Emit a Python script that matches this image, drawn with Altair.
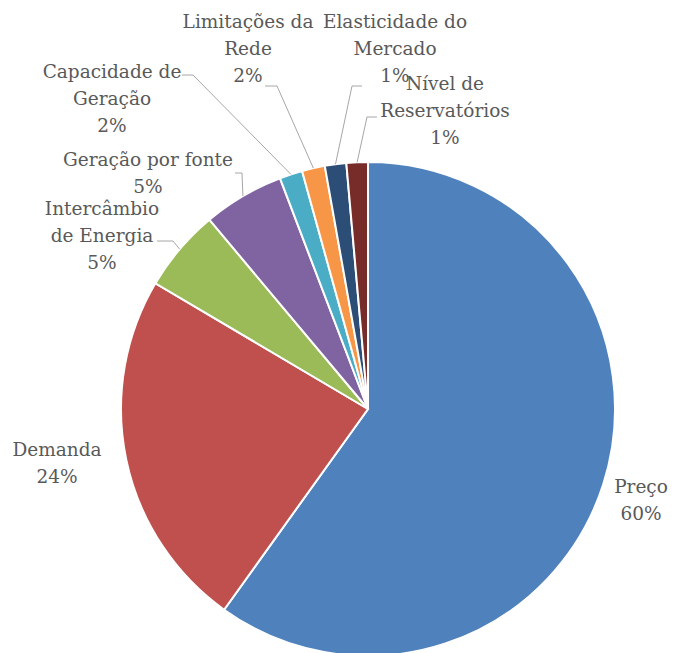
import math
import altair as alt
import pandas as pd

# ---- data ----
categories = ["Preço", "Demanda", "Intercâmbio de Energia", "Geração por fonte",
              "Capacidade de Geração", "Limitações da Rede", "Elasticidade do Mercado",
              "Nível de Reservatórios"]
values = [59.9, 23.6, 5.4, 5.3, 1.5, 1.5, 1.4, 1.4]
label_names = ["Preço", "Demanda", "Intercâmbio\nde Energia", "Geração por fonte",
               "Capacidade de\nGeração", "Limitações da\nRede", "Elasticidade do\nMercado",
               "Nível de\nReservatórios"]

# ---- style / layout ----
colors = ["#4F81BD", "#C0504D", "#9BBB59", "#8064A2", "#4BACC6", "#F79646", "#2C4D75", "#772C2A"]
W, H = 661, 645
CX, CY, R = 360, 401, 247
FONT = "DejaVu Serif"
TEXT_COLOR = "#595959"
# centre of the first line of each label (chart coordinates)
label_pos = [(633, 479), (49, 442), (94, 201), (140, 152), (104, 64), (240, 14), (387, 14), (437, 76)]
leader_start = {2: [(149, 233), (165, 233)], 3: [(227, 165), (234, 165)],
                4: [(174, 67), (185, 67)], 5: [(257, 78), (269, 78)],
                6: [(354, 78), (344, 78)], 7: [(369, 109), (359, 109)]}

total = sum(values)
df = pd.DataFrame({"category": categories, "value": values, "idx": list(range(len(values)))})

rows = []
for i, (name, v) in enumerate(zip(label_names, values)):
    pct = int(v / total * 100 + 0.5)
    rows.append({"label": f"{name}\n{pct}%", "lx": label_pos[i][0], "ly": label_pos[i][1]})
lab_df = pd.DataFrame(rows)

lines = []
cum = 0.0
for i, v in enumerate(values):
    mid = (cum + v / 2) / total * 2 * math.pi
    cum += v
    if i in leader_start:
        pts = leader_start[i] + [(CX + R * math.sin(mid), CY - R * math.cos(mid))]
        for k, (x, y) in enumerate(pts):
            lines.append({"id": i, "k": k, "x": x, "y": y})
line_df = pd.DataFrame(lines)

pie = alt.Chart(df).mark_arc(outerRadius=R, stroke="white", strokeWidth=2).encode(
    theta=alt.Theta("value:Q", stack=True),
    color=alt.Color("category:N", scale=alt.Scale(domain=categories, range=colors), legend=None),
    order=alt.Order("idx:Q"),
    x=alt.value(CX),
    y=alt.value(CY),
)

leaders = alt.Chart(line_df).mark_line(color="#A6A6A6", strokeWidth=1).encode(
    x=alt.X("x:Q", scale=None, axis=None),
    y=alt.Y("y:Q", scale=None, axis=None),
    detail="id:N",
    order="k:Q",
)

texts = alt.Chart(lab_df).mark_text(
    font=FONT, fontSize=18.5, color=TEXT_COLOR, lineBreak="\n", lineHeight=26.8,
    align="center", baseline="middle"
).encode(
    x=alt.X("lx:Q", scale=None, axis=None),
    y=alt.Y("ly:Q", scale=None, axis=None),
    text="label:N",
)

chart = alt.layer(pie, leaders, texts).properties(
    width=W, height=H, padding=0, autosize=alt.AutoSizeParams(type="none")
).configure_view(stroke=None)

chart.save("out.html", embed_options={"renderer": "svg", "actions": False})
